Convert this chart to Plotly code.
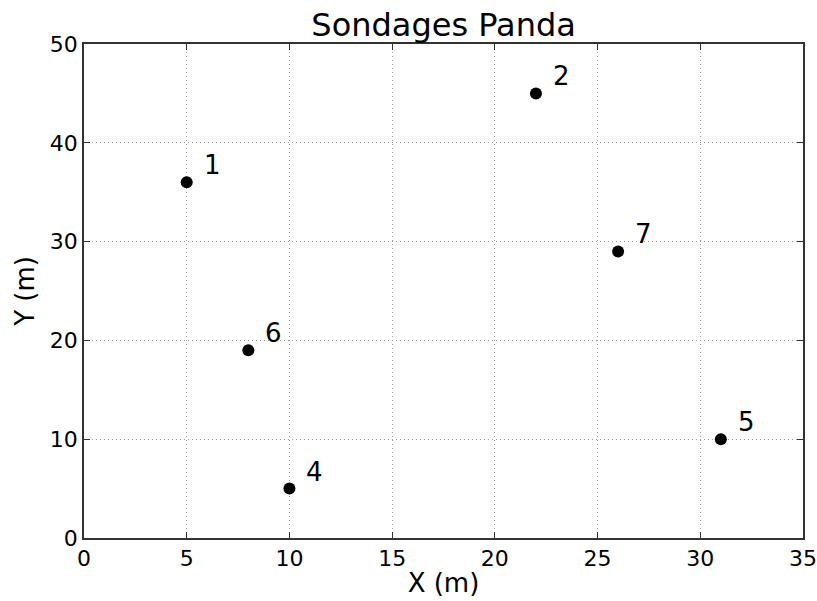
import plotly.graph_objects as go

# Survey points (sondages): identifier and coordinates in metres
sondage_ids = ["1", "2", "4", "5", "6", "7"]
x_m = [5, 22, 10, 31, 8, 26]
y_m = [36, 45, 5, 10, 19, 29]

FONT = "DejaVu Sans"

fig = go.Figure()
fig.add_trace(go.Scatter(
    x=x_m, y=y_m, mode="markers",
    marker=dict(color="black", size=12),
    showlegend=False,
))

for sid, xv, yv in zip(sondage_ids, x_m, y_m):
    fig.add_annotation(
        x=xv, y=yv, text=sid, showarrow=False,
        xanchor="left", yanchor="bottom", xshift=15, yshift=0,
        font=dict(family=FONT, size=26, color="black"),
    )

axis_common = dict(
    automargin=False,
    showline=True, linecolor="#333333", linewidth=1.5, mirror="ticks",
    ticks="inside", ticklen=6, tickwidth=1, tickcolor="#333333",
    showgrid=True, gridcolor="#a0a0a0", griddash="1px,3px", gridwidth=1.2,
    zeroline=False,
    tickfont=dict(family=FONT, size=22, color="black"),
)

fig.update_layout(
    width=817, height=601,
    margin=dict(l=84, r=14, t=44, b=63),
    paper_bgcolor="white", plot_bgcolor="white",
    title=dict(text="Sondages Panda", x=0.543, xanchor="center",
               y=0.958, yanchor="middle",
               font=dict(family=FONT, size=32, color="black")),
    xaxis=dict(range=[0, 35], dtick=5,
               title=dict(text="X (m)", font=dict(family=FONT, size=26, color="black"), standoff=4),
               **axis_common),
    yaxis=dict(range=[0, 50], dtick=10,
               title=dict(text="Y (m)", font=dict(family=FONT, size=26, color="black"), standoff=8),
               **axis_common),
)

fig.write_html("out.html")
